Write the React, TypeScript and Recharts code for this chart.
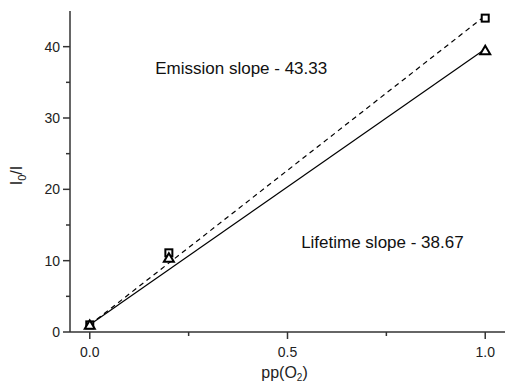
import React from 'react';
import { ComposedChart, Line, Scatter, XAxis, YAxis, ReferenceDot } from 'recharts';

// measured points
const ppO2 = [0, 0.2, 1.0];
const emissionRatio = [1.0, 11.1, 44.0];
const lifetimeRatio = [1.0, 10.4, 39.5];

// linear fits through (0, 1)
const fitX = [0, 1];
const emissionFit = [1, 44.33];
const lifetimeFit = [1, 39.67];

const xTicks = [0, 0.25, 0.5, 0.75, 1.0];
const xMajor = [0, 0.5, 1.0];
const yTicks = [0, 5, 10, 15, 20, 25, 30, 35, 40];
const yMajor = [0, 10, 20, 30, 40];

const emissionPoints = ppO2.map((x, i) => ({ x, y: emissionRatio[i] }));
const lifetimePoints = ppO2.map((x, i) => ({ x, y: lifetimeRatio[i] }));
const emissionLine = fitX.map((x, i) => ({ x, y: emissionFit[i] }));
const lifetimeLine = fitX.map((x, i) => ({ x, y: lifetimeFit[i] }));

const FONT = '"Liberation Sans", Arial, sans-serif';
const AXIS = '#333';

const XTick = (props: any) => {
  const { x, y, payload } = props;
  const major = xMajor.includes(payload.value);
  return (
    <g>
      <line x1={x} x2={x} y1={y} y2={y + (major ? 7 : 4)} stroke={AXIS} strokeWidth={1.5} />
      {major && (
        <text x={x} y={y + 25} textAnchor="middle" fontSize={14} fontFamily={FONT} fill="#222">
          {payload.value.toFixed(1)}
        </text>
      )}
    </g>
  );
};

const YTick = (props: any) => {
  const { x, y, payload } = props;
  const major = yMajor.includes(payload.value);
  return (
    <g>
      <line x1={x} x2={x - (major ? 7 : 4)} y1={y} y2={y} stroke={AXIS} strokeWidth={1.5} />
      {major && (
        <text x={x - 10} y={y + 5} textAnchor="end" fontSize={14} fontFamily={FONT} fill="#222">
          {payload.value}
        </text>
      )}
    </g>
  );
};

const XLabel = (props: any) => {
  const { viewBox } = props;
  const cx = viewBox.x + viewBox.width / 2 - 3;
  return (
    <text x={cx} y={viewBox.y + 46} textAnchor="middle" fontSize={16} fontFamily={FONT} fill="#222">
      pp(O<tspan fontSize={10} dy={3}>2</tspan><tspan dy={-3}>)</tspan>
    </text>
  );
};

const YLabel = (props: any) => {
  const { viewBox } = props;
  const cx = 22;
  const cy = viewBox.y + viewBox.height / 2 + 4;
  return (
    <text x={cx} y={cy} transform={`rotate(-90 ${cx} ${cy})`} textAnchor="middle" fontSize={16} fontFamily={FONT} fill="#222">
      I<tspan fontSize={11} dy={4}>0</tspan><tspan dy={-4}>/I</tspan>
    </text>
  );
};

const SquareMark = (props: any) => {
  const { cx, cy } = props;
  return <rect x={cx - 3.5} y={cy - 3.5} width={7} height={7} fill="#fff" stroke="#000" strokeWidth={2} />;
};

const TriangleMark = (props: any) => {
  const { cx, cy } = props;
  return (
    <polygon
      points={`${cx},${cy - 4.5} ${cx - 5},${cy + 4} ${cx + 5},${cy + 4}`}
      fill="#fff"
      stroke="#000"
      strokeWidth={2}
      strokeLinejoin="miter"
    />
  );
};

const annotation = (value: string) => ({
  value,
  position: 'center' as const,
  fontSize: 17,
  fontFamily: FONT,
  fill: '#111',
});

export default function App() {
  return (
    <div style={{ position: 'absolute', left: 0, top: 0, background: '#fff' }}>
      <ComposedChart width={507} height={385} margin={{ top: 11, right: 2, bottom: 0, left: 10 }}>
        <XAxis
          type="number"
          dataKey="x"
          domain={[-0.05, 1.05]}
          ticks={xTicks}
          allowDataOverflow
          height={53}
          stroke={AXIS}
          strokeWidth={1.5}
          tickLine={false}
          tickSize={0}
          tickMargin={0}
          tick={<XTick />}
          label={<XLabel />}
        />
        <YAxis
          type="number"
          dataKey="y"
          domain={[0, 45]}
          ticks={yTicks}
          allowDataOverflow
          width={60}
          stroke={AXIS}
          strokeWidth={1.5}
          tickLine={false}
          tickSize={0}
          tickMargin={0}
          tick={<YTick />}
          label={<YLabel />}
        />
        <Line data={emissionLine} dataKey="y" type="linear" stroke="#000" strokeWidth={1.2} strokeDasharray="5 4" dot={false} isAnimationActive={false} />
        <Line data={lifetimeLine} dataKey="y" type="linear" stroke="#000" strokeWidth={1.2} dot={false} isAnimationActive={false} />
        <Scatter data={emissionPoints} dataKey="y" shape={<SquareMark />} isAnimationActive={false} />
        <Scatter data={lifetimePoints} dataKey="y" shape={<TriangleMark />} isAnimationActive={false} />
        <ReferenceDot x={0.383} y={37.0} r={0} fill="none" stroke="none" label={annotation('Emission slope - 43.33')} />
        <ReferenceDot x={0.74} y={12.6} r={0} fill="none" stroke="none" label={annotation('Lifetime slope - 38.67')} />
      </ComposedChart>
    </div>
  );
}
